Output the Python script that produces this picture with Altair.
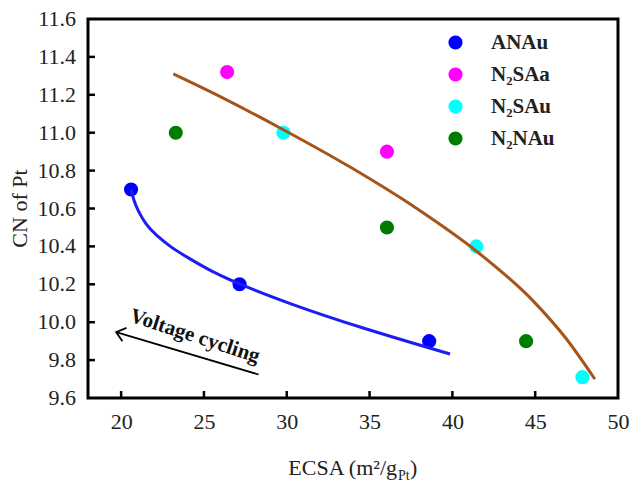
import altair as alt
import pandas as pd

# ---- data ----
series = ["ANAu", "N₂SAa", "N₂SAu", "N₂NAu"]
colors = ["#0000ff", "#ff00ff", "#00ffff", "#007d00"]

anau_x = [20.6, 27.15, 38.6]
anau_y = [10.70, 10.20, 9.90]
n2saa_x = [26.4, 36.05]
n2saa_y = [11.32, 10.90]
n2sau_x = [29.8, 41.45, 47.85]
n2sau_y = [11.00, 10.40, 9.71]
n2nau_x = [23.3, 36.05, 44.45]
n2nau_y = [11.00, 10.50, 9.90]

# fitted curves
blue_fit_x = [20.61, 20.75, 21.02, 21.5, 22.03, 23.0, 24.04, 25.5, 27.16, 30.08, 34.30, 39.86]
blue_fit_y = [10.70, 10.645, 10.587, 10.515, 10.465, 10.395, 10.34, 10.265, 10.20, 10.10, 9.975, 9.832]
brown_fit_x = [23.15, 26.1, 29.6, 33.8, 37.85, 41.45, 44.9, 46.9, 48.6]
brown_fit_y = [11.31, 11.185, 11.025, 10.82, 10.60, 10.375, 10.11, 9.91, 9.70]

x_ticks = [20, 25, 30, 35, 40, 45, 50]
y_ticks = [9.6, 9.8, 10.0, 10.2, 10.4, 10.6, 10.8, 11.0, 11.2, 11.4, 11.6]

# annotation arrow (tail -> tip) and label, in data coordinates
arrow_x = [28.3, 19.7]
arrow_y = [9.724, 9.948]
note_text = "Voltage cycling"
note_x = 24.45
note_y = 9.925

W, H = 530, 379
FONT = "Liberation Serif"

rows = []
for name, xs, ys in [
    (series[0], anau_x, anau_y),
    (series[1], n2saa_x, n2saa_y),
    (series[2], n2sau_x, n2sau_y),
    (series[3], n2nau_x, n2nau_y),
]:
    for a, b in zip(xs, ys):
        rows.append({"series": name, "ecsa": a, "cn": b})
points_df = pd.DataFrame(rows)

xscale = alt.Scale(domain=[18, 50], nice=False, zero=False)
yscale = alt.Scale(domain=[9.6, 11.6], nice=False, zero=False)

xaxis = alt.Axis(values=x_ticks, format="d", title=None, labelPadding=13,
                 labelFlush=False, labelOverlap=False, labelBound=False)


def X(field):
    return alt.X(field, scale=xscale, axis=xaxis)


def Y(field):
    return alt.Y(field, scale=yscale, axis=None)


pts = alt.Chart(points_df).mark_circle(size=200, opacity=1).encode(
    x=X("ecsa:Q"),
    y=Y("cn:Q"),
    color=alt.Color(
        "series:N",
        scale=alt.Scale(domain=series, range=colors),
        sort=series,
        legend=alt.Legend(
            title=None, orient="none", legendX=357, legendY=13,
            labelFont=FONT, labelFontWeight="bold", labelFontSize=21,
            labelColor="#222222", symbolType="circle", symbolSize=200,
            symbolStrokeWidth=0, symbolOpacity=1, labelOffset=25,
            rowPadding=10, padding=0, symbolOffset=0,
        ),
    ),
)

blue_df = pd.DataFrame({"ecsa": blue_fit_x, "cn": blue_fit_y})
brown_df = pd.DataFrame({"ecsa": brown_fit_x, "cn": brown_fit_y})

blue_line = alt.Chart(blue_df).mark_line(
    color="#1c1cf5", strokeWidth=3, interpolate="basis"
).encode(x=X("ecsa:Q"), y=Y("cn:Q"))
brown_line = alt.Chart(brown_df).mark_line(
    color="#a5541a", strokeWidth=3, interpolate="monotone"
).encode(x=X("ecsa:Q"), y=Y("cn:Q"))

# inward tick marks
xt = alt.Chart(pd.DataFrame({"v": x_ticks[:-1]})).mark_rule(
    color="black", strokeWidth=2.5
).encode(x=X("v:Q"), y=alt.value(H), y2=alt.value(H - 7))
yt = alt.Chart(pd.DataFrame({"v": y_ticks[1:-1]})).mark_rule(
    color="black", strokeWidth=2.5
).encode(y=Y("v:Q"), x=alt.value(0), x2=alt.value(7))

# y tick labels (drawn from the y_ticks list)
ylab_df = pd.DataFrame({"v": y_ticks, "t": [f"{v:.1f}" for v in y_ticks]})
ylabels = alt.Chart(ylab_df).mark_text(
    font=FONT, fontSize=22, align="right", baseline="middle", color="#222222"
).encode(y=Y("v:Q"), x=alt.value(-12), text="t:N")

# annotation arrow
arrow_df = pd.DataFrame({"ecsa": arrow_x, "cn": arrow_y, "o": [0, 1]})
arrow_line = alt.Chart(arrow_df).mark_line(color="black", strokeWidth=1.8).encode(
    x=X("ecsa:Q"), y=Y("cn:Q"), order="o:Q"
)
arrow_head = alt.Chart(arrow_df.iloc[[1]]).mark_point(
    shape="M1,-0.8L0,0L1,0.8", filled=False, color="black",
    strokeWidth=1.8, size=300, angle=17, opacity=1
).encode(x=X("ecsa:Q"), y=Y("cn:Q"))
note = alt.Chart(pd.DataFrame({"t": [note_text]})).mark_text(
    font=FONT, fontWeight="bold", fontSize=21, angle=18,
    align="center", baseline="middle", color="#111111"
).encode(x=alt.datum(note_x), y=alt.datum(note_y), text="t:N")

# axis titles (with sub/superscripts)
xt1 = alt.Chart(pd.DataFrame({"t": ["ECSA (m²/g"]})).mark_text(
    font=FONT, fontSize=22, align="right", baseline="alphabetic", color="#222222").encode(
    x=alt.value(309), y=alt.value(456), text="t:N")
xt2 = alt.Chart(pd.DataFrame({"t": ["Pt"]})).mark_text(
    font=FONT, fontSize=14, align="left", baseline="alphabetic", color="#222222").encode(
    x=alt.value(310), y=alt.value(461), text="t:N")
xt3 = alt.Chart(pd.DataFrame({"t": [")"]})).mark_text(
    font=FONT, fontSize=22, align="left", baseline="alphabetic", color="#222222").encode(
    x=alt.value(322), y=alt.value(456), text="t:N")
ytitle = alt.Chart(pd.DataFrame({"t": ["CN of Pt"]})).mark_text(
    font=FONT, fontSize=22, angle=270, align="center", baseline="middle",
    color="#222222").encode(x=alt.value(-68), y=alt.value(H / 2), text="t:N")

chart = alt.layer(
    pts, blue_line, brown_line, xt, yt, ylabels, arrow_line, arrow_head, note,
    xt1, xt2, xt3, ytitle
).properties(
    width=W, height=H,
    autosize=alt.AutoSizeParams(type="none"),
    padding={"left": 80, "top": 11, "right": 13, "bottom": 85},
).configure_view(
    stroke="black", strokeWidth=3
).configure_axis(
    grid=False, domain=False, ticks=False,
    labelFont=FONT, labelFontSize=22, labelColor="#222222",
)

chart.save("out.html", embed_options={"renderer": "svg", "actions": False})
